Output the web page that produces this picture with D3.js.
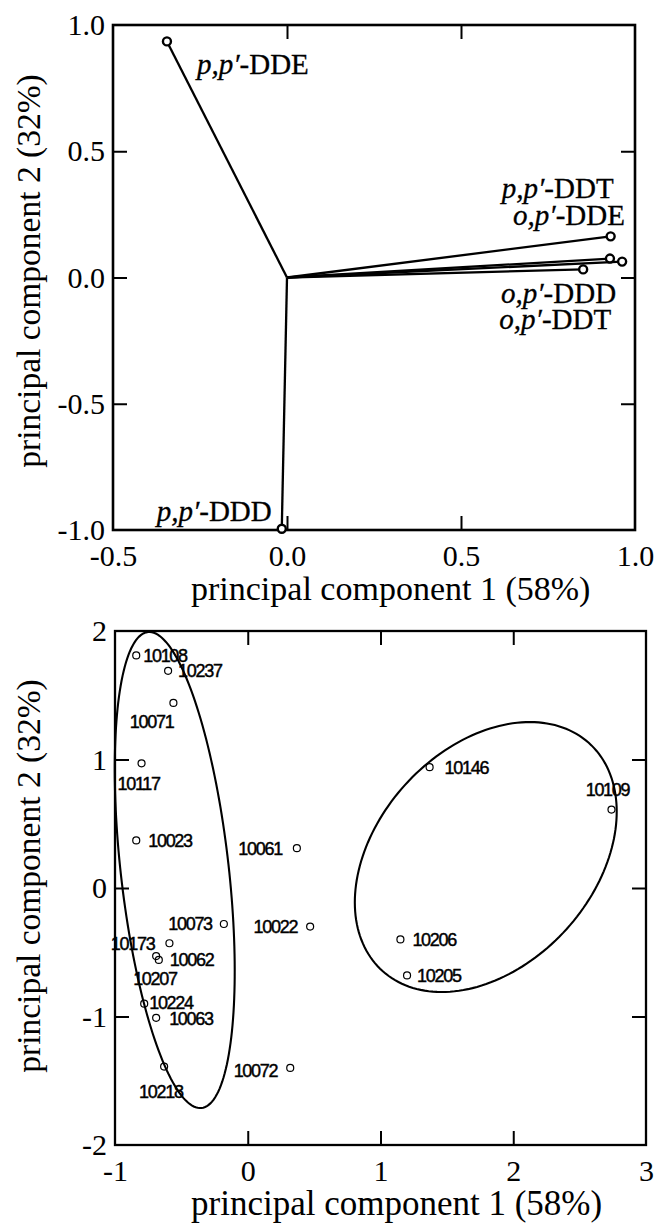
<!DOCTYPE html>
<html>
<head>
<meta charset="utf-8">
<script src="https://cdn.jsdelivr.net/npm/d3@7"></script>
<style>
  body { margin: 0; background: #fff; }
  svg { display: block; }
  .serif { font-family: "Liberation Serif", "Times New Roman", serif; fill: #000; }
  .sans { font-family: "Liberation Sans", Arial, sans-serif; fill: #000; }
</style>
</head>
<body>
<svg id="chart" width="658" height="1232"></svg>
<script>
// ---- Loadings of the six DDT compounds (upper panel) ----
const loadingNames = ["p,p′-DDE", "p,p′-DDT", "o,p′-DDE", "o,p′-DDD", "o,p′-DDT", "p,p′-DDD"];
const loadingPC1   = [-0.345, 0.930, 0.928, 0.963, 0.851, -0.015];
const loadingPC2   = [ 0.935, 0.163, 0.075, 0.063, 0.032, -0.995];

// ---- Sample scores (lower panel) ----
const sampleIds = ["10108", "10237", "10071", "10117", "10023", "10061", "10073", "10022",
                   "10173", "10062", "10207", "10224", "10063", "10218", "10072",
                   "10146", "10109", "10206", "10205"];
const scorePC1  = [-0.84, -0.60, -0.56, -0.80, -0.84, 0.37, -0.18, 0.47,
                   -0.59, -0.67, -0.69, -0.78, -0.69, -0.63, 0.32,
                   1.37, 2.74, 1.15, 1.20];
const scorePC2  = [ 1.81,  1.69,  1.44,  0.97,  0.37, 0.31, -0.28, -0.30,
                   -0.43, -0.56, -0.53, -0.90, -1.01, -1.39, -1.40,
                   0.94, 0.61, -0.40, -0.68];

// ---- Group ellipses in score units: centre, semi-axes, orientation (deg) ----
const ellipseCX     = [-0.55, 1.793];
const ellipseCY     = [ 0.14, 0.241];
const ellipseMajor  = [1.863, 1.180];
const ellipseMinor  = [0.407, 0.827];
const ellipseAngle  = [96.2, 50.3];

// ---- Axis ticks ----
const topXLabels = [-0.5, 0, 0.5, 1.0];
const topYLabels = [-1.0, -0.5, 0, 0.5, 1.0];
const topXTicks  = [0, 0.5];
const topYTicks  = [-0.5, 0, 0.5];
const botXLabels = [-1, 0, 1, 2, 3];
const botYLabels = [-2, -1, 0, 1, 2];
const botXTicks  = [0, 1, 2];
const botYTicks  = [-1, 0, 1];

const xTitle = "principal component 1 (58%)";
const yTitle = "principal component 2 (32%)";

// ---- Label placement (pixel offsets from each marker) ----
const loadingLabelLayout = [
  { dx: 30, dy: 33, anchor: "start" },
  { dx: 3,  dy: -38, anchor: "end" },
  { dx: 15, dy: -34, anchor: "end" },
  { dx: -6, dy: 41, anchor: "end" },
  { dx: 28, dy: 60, anchor: "end" },
  { dx: -10, dy: -8, anchor: "end" }
];
const sampleLabelLayout = [
  { dx: 7, dy: 0, anchor: "start" },   // 10108
  { dx: 10, dy: 0, anchor: "start" },  // 10237
  { dx: 0, dy: 19, anchor: "end" },    // 10071
  { dx: -24, dy: 20, anchor: "start" },// 10117
  { dx: 12, dy: 0, anchor: "start" },  // 10023
  { dx: -15, dy: 0, anchor: "end" },   // 10061
  { dx: -12, dy: 0, anchor: "end" },   // 10073
  { dx: -13, dy: 0, anchor: "end" },   // 10022
  { dx: -15, dy: 0, anchor: "end" },   // 10173
  { dx: 11, dy: 0, anchor: "start" },  // 10062
  { dx: -23, dy: 22, anchor: "start" },// 10207
  { dx: 5, dy: -1, anchor: "start" },  // 10224
  { dx: 13, dy: 1, anchor: "start" },  // 10063
  { dx: -25, dy: 25, anchor: "start" },// 10218
  { dx: -13, dy: 3, anchor: "end" },   // 10072
  { dx: 15, dy: 0, anchor: "start" },  // 10146
  { dx: -4, dy: -20, anchor: "middle" },// 10109
  { dx: 12, dy: 0, anchor: "start" },  // 10206
  { dx: 10, dy: 0, anchor: "start" }   // 10205
];

const svg = d3.select("#chart");

// Panel frames and title placement
const topBox = { l: 113, r: 635, t: 25, b: 530, yTitleY: 271, xTitleSize: 34 };
const botBox = { l: 115, r: 646, t: 631, b: 1145, yTitleY: 876, xTitleSize: 35 };

const xTop = d3.scaleLinear().domain([-0.5, 1.0]).range([topBox.l, topBox.r]);
const yTop = d3.scaleLinear().domain([-1, 1]).range([topBox.b, topBox.t]);
const xBot = d3.scaleLinear().domain([-1, 3]).range([botBox.l, botBox.r]);
const yBot = d3.scaleLinear().domain([-2, 2]).range([botBox.b, botBox.t]);

const fmt1 = d => d.toFixed(1);
const fmt0 = d => String(d);

function drawAxes(box, x, y, xLabels, yLabels, xTicks, yTicks, fmt, strokeW) {
  const tick = 14;
  // inward tick marks on all four sides
  const mk = (axis, tx, ty) => {
    const g = svg.append("g").attr("transform", `translate(${tx},${ty})`).call(axis);
    g.select(".domain").remove();
    g.selectAll("line").attr("stroke", "#000").attr("stroke-width", 2);
    g.selectAll("text").remove();
  };
  mk(d3.axisBottom(x).tickValues(xTicks).tickSizeInner(-tick).tickSizeOuter(0), 0, box.b);
  mk(d3.axisTop(x).tickValues(xTicks).tickSizeInner(-tick).tickSizeOuter(0), 0, box.t);
  mk(d3.axisLeft(y).tickValues(yTicks).tickSizeInner(-tick).tickSizeOuter(0), box.l, 0);
  mk(d3.axisRight(y).tickValues(yTicks).tickSizeInner(-tick).tickSizeOuter(0), box.r, 0);

  // tick labels
  const gx = svg.append("g").attr("transform", `translate(0,${box.b})`)
    .call(d3.axisBottom(x).tickValues(xLabels).tickFormat(fmt).tickSize(0).tickPadding(0));
  gx.select(".domain").remove();
  gx.selectAll("text").attr("class", "serif").attr("font-size", 30)
    .attr("y", 36).attr("dy", 0).attr("fill", "#000");
  const gy = svg.append("g").attr("transform", `translate(${box.l},0)`)
    .call(d3.axisLeft(y).tickValues(yLabels).tickFormat(fmt).tickSize(0).tickPadding(8));
  gy.select(".domain").remove();
  gy.selectAll("text").attr("class", "serif").attr("font-size", 30).attr("fill", "#000");

  svg.append("rect")
    .attr("x", box.l).attr("y", box.t)
    .attr("width", box.r - box.l).attr("height", box.b - box.t)
    .attr("fill", "none").attr("stroke", "#000").attr("stroke-width", strokeW);

  svg.append("text").attr("class", "serif").attr("font-size", box.xTitleSize)
    .attr("text-anchor", "start")
    .attr("x", 191).attr("y", box.b + 70)
    .text(xTitle);
  svg.append("text").attr("class", "serif").attr("font-size", 33.5)
    .attr("text-anchor", "middle")
    .attr("transform", `translate(40,${box.yTitleY}) rotate(-90)`)
    .text(yTitle);
}

// ================= Upper panel: loadings =================
drawAxes(topBox, xTop, yTop, topXLabels, topYLabels, topXTicks, topYTicks, fmt1, 2.6);

const loadings = loadingNames.map((n, i) => ({ name: n, pc1: loadingPC1[i], pc2: loadingPC2[i], lay: loadingLabelLayout[i] }));

svg.append("g").selectAll("line").data(loadings).join("line")
  .attr("x1", xTop(0)).attr("y1", yTop(0))
  .attr("x2", d => xTop(d.pc1)).attr("y2", d => yTop(d.pc2))
  .attr("stroke", "#000").attr("stroke-width", 2.3);

svg.append("g").selectAll("circle").data(loadings).join("circle")
  .attr("cx", d => xTop(d.pc1)).attr("cy", d => yTop(d.pc2))
  .attr("r", 4).attr("fill", "#fff").attr("stroke", "#000").attr("stroke-width", 2.4);

const lt = svg.append("g").selectAll("text").data(loadings).join("text")
  .attr("class", "serif").attr("font-size", 29)
  .attr("stroke", "#000").attr("stroke-width", 0.3)
  .attr("x", d => xTop(d.pc1) + d.lay.dx)
  .attr("y", d => yTop(d.pc2) + d.lay.dy)
  .attr("text-anchor", d => d.lay.anchor);
lt.append("tspan").attr("font-style", "italic").text(d => d.name.split("-")[0]);
lt.append("tspan").text(d => "-" + d.name.split("-")[1]);

// ================= Lower panel: scores =================
drawAxes(botBox, xBot, yBot, botXLabels, botYLabels, botXTicks, botYTicks, fmt0, 2.3);

const ellipseLine = d3.line().x(p => xBot(p[0])).y(p => yBot(p[1])).curve(d3.curveLinearClosed);
ellipseCX.forEach((cx, k) => {
  const phi = ellipseAngle[k] * Math.PI / 180;
  const pts = d3.range(0, 360, 2).map(deg => {
    const t = deg * Math.PI / 180;
    const u = ellipseMajor[k] * Math.cos(t), v = ellipseMinor[k] * Math.sin(t);
    return [cx + u * Math.cos(phi) - v * Math.sin(phi),
            ellipseCY[k] + u * Math.sin(phi) + v * Math.cos(phi)];
  });
  svg.append("path").attr("d", ellipseLine(pts))
    .attr("fill", "none").attr("stroke", "#000").attr("stroke-width", 2.1);
});

const samples = sampleIds.map((id, i) => ({ id, pc1: scorePC1[i], pc2: scorePC2[i], lay: sampleLabelLayout[i] }));

svg.append("g").selectAll("circle").data(samples).join("circle")
  .attr("cx", d => xBot(d.pc1)).attr("cy", d => yBot(d.pc2))
  .attr("r", 3.5).attr("fill", "none").attr("stroke", "#000").attr("stroke-width", 1.2);

svg.append("g").selectAll("text").data(samples).join("text")
  .attr("class", "sans").attr("font-size", 18).attr("letter-spacing", -1.3)
  .attr("stroke", "#000").attr("stroke-width", 0.45)
  .attr("x", d => xBot(d.pc1) + d.lay.dx)
  .attr("y", d => yBot(d.pc2) + d.lay.dy)
  .attr("dy", "0.36em")
  .attr("text-anchor", d => d.lay.anchor)
  .text(d => d.id);
</script>
</body>
</html>
